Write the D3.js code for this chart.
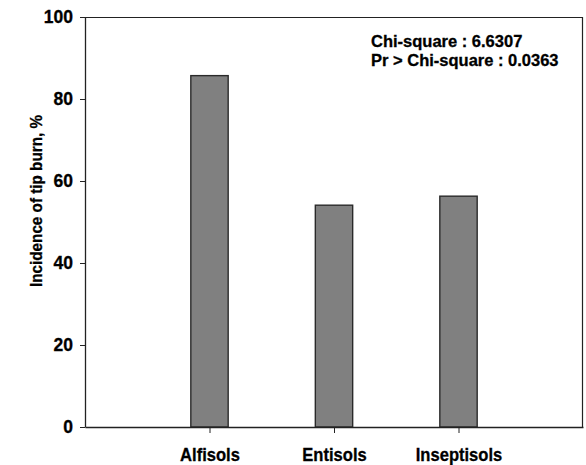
<!DOCTYPE html>
<html>
<head>
<meta charset="utf-8">
<script src="https://cdn.jsdelivr.net/npm/d3@7"></script>
<style>
  body { margin: 0; background: #fff; }
  text { font-family: "Liberation Sans", Arial, sans-serif; font-weight: bold; fill: #000; stroke: #000; stroke-width: 0.3px; }
  .domain, .tick line { stroke: #222; }
</style>
</head>
<body>
<div id="chart"></div>
<script>
// data
var soils = ["Alfisols", "Entisols", "Inseptisols"];
var incidence = [85.7, 54.1, 56.3];
var yTicks = [0, 20, 40, 60, 80, 100];
var statLines = ["Chi-square : 6.6307", "Pr > Chi-square : 0.0363"];

// margin, width, height
var margin = {top: 17, right: 3, bottom: 38, left: 85},
    width = 586 - margin.left - margin.right,
    height = 465 - margin.top - margin.bottom;

var svg = d3.select("#chart").append("svg")
    .attr("width", 586)
    .attr("height", 465)
  .append("g")
    .attr("transform", "translate(" + margin.left + "," + margin.top + ")");

// scales
var x = d3.scalePoint().domain(soils).range([0, width]).padding(1);
var y = d3.scaleLinear().domain([0, 100]).range([height, 0]);
var barW = x.step() * 0.3;

// bars
svg.selectAll(".bar")
    .data(soils)
  .enter().append("rect")
    .attr("class", "bar")
    .attr("x", function(d) { return x(d) - barW / 2; })
    .attr("y", function(d, i) { return y(incidence[i]); })
    .attr("width", barW)
    .attr("height", function(d, i) { return height - y(incidence[i]); })
    .style("fill", "#808080")
    .style("stroke", "#2a2a2a")
    .style("stroke-width", "1.4px");

// frame top and right
svg.append("path")
    .attr("d", "M0,0.5H" + (width - 0.5) + "V" + height)
    .style("fill", "none")
    .style("stroke", "#222")
    .style("stroke-width", "1.2px");

// axes
var xAxis = d3.axisBottom(x).tickSize(6).tickSizeOuter(0).tickPadding(15);
var yAxis = d3.axisLeft(y).tickValues(yTicks).tickSize(5).tickSizeOuter(0).tickPadding(7);

// the original font is a bit narrower than Liberation, so squeeze it slightly
svg.append("g")
    .attr("class", "xaxis")
    .attr("transform", "translate(0," + height + ")")
    .call(xAxis)
    .selectAll("text")
    .style("font-size", "18px")
    .attr("textLength", function() { return this.getComputedTextLength() * 0.92; })
    .attr("lengthAdjust", "spacingAndGlyphs");

svg.append("g")
    .attr("class", "yaxis")
    .call(yAxis)
    .selectAll("text")
    .style("font-size", "17.5px");

svg.selectAll(".domain").style("stroke-width", "1.3px");

// y axis title
svg.append("text")
    .attr("transform", "translate(" + (42 - margin.left) + "," + (201 - margin.top) + ") rotate(-90)")
    .style("text-anchor", "middle")
    .style("font-size", "17px")
    .attr("textLength", 172)
    .attr("lengthAdjust", "spacingAndGlyphs")
    .text("Incidence of tip burn, %");

// chi-square note
svg.selectAll(".stat")
    .data(statLines)
  .enter().append("text")
    .attr("class", "stat")
    .attr("x", 371 - margin.left)
    .attr("y", function(d, i) { return 47 - margin.top + i * 19; })
    .style("font-size", "16.5px")
    .text(function(d) { return d; });
</script>
</body>
</html>
